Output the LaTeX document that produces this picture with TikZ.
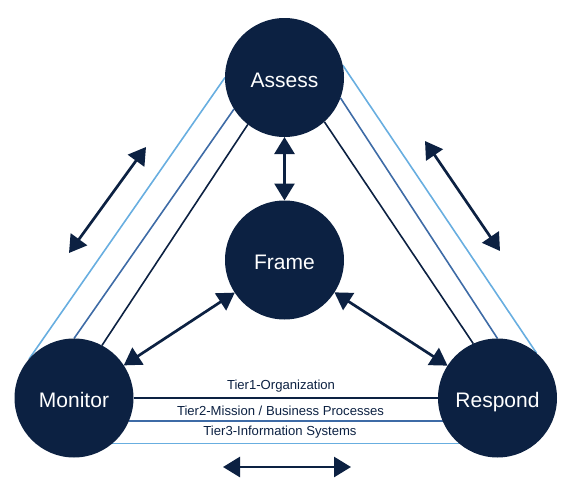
\documentclass[tikz,border=0pt]{standalone}
\usepackage{fontspec}
\setmainfont{Liberation Sans}
\usetikzlibrary{arrows.meta}
\definecolor{navy}{HTML}{0C2142}
\definecolor{midblue}{HTML}{3E6BA6}
\definecolor{lightblue}{HTML}{68AEE0}
\pgfdeclarelayer{background}
\pgfsetlayers{background,main}
\begin{document}
\begin{tikzpicture}[x=1pt,y=-1pt,
  phase/.style={circle, fill=navy, minimum size=119pt, inner sep=0pt, outer sep=0pt,
    text=white, font=\fontsize{21}{24}\selectfont, text height=19pt, text depth=0pt},
  darkline/.style={draw=navy, line width=1.6pt},
  midline/.style={draw=midblue, line width=1.6pt},
  lightline/.style={draw=lightblue, line width=1.6pt},
  dblarrow/.style={draw=navy, line width=2.7pt,
    {Triangle[length=17pt,width=20pt]}-{Triangle[length=17pt,width=20pt]}},
  tierlabel/.style={text=navy, font=\fontsize{13.1}{15}\selectfont, inner sep=0pt}
]
\useasboundingbox (0,0) rectangle (571,490);

\node[phase] (Assess)  at (284.5,77.5) {Assess};
\node[phase] (Frame)   at (284.5,260)  {Frame};
\node[phase] (Monitor) at (74,398)     {Monitor};
\node[phase] (Respond) at (497.5,398)  {Respond};

\begin{pgfonlayer}{background}
  % left side
  \draw[lightline] (Assess.180.5) -- (Monitor.139.1);
  \draw[midline]   (Assess.212.3) -- (Monitor.90);
  \draw[darkline]  (Assess.232.9) -- (Monitor.62.2);
  % right side
  \draw[lightline] (Assess.12.1)  -- (Respond.49.6);
  \draw[midline]   (Assess.-20.3) -- (Respond.90.5);
  \draw[darkline]  (Assess.-48.9) -- (Respond.114.9);
  % bottom
  \draw[darkline]  (Monitor) -- (Respond);
  \draw[midline]   (Monitor.-23.8) -- (Respond.203.8);
  \draw[lightline] (Monitor.-50.7) -- (Respond.230.7);
\end{pgfonlayer}

\node[tierlabel] (t1) at (281,385.7) {Tier1-Organization};
\node[tierlabel] (t2) at (280.5,410.7) {Tier2-Mission / Business Processes};
\node[tierlabel] (t3) at (280,432.3) {Tier3-Information Systems};

\draw[dblarrow] (Assess) -- (Frame);
\draw[dblarrow] (Frame) -- (Monitor);
\draw[dblarrow] (Frame) -- (Respond);

\coordinate (L1) at (146,147);
\coordinate (L2) at (69,253);
\coordinate (R1) at (425,141);
\coordinate (R2) at (500,251);
\coordinate (B1) at (223,467);
\coordinate (B2) at (351,467);
\draw[dblarrow] (L1) -- (L2);
\draw[dblarrow] (R1) -- (R2);
\draw[dblarrow] (B1) -- (B2);
\end{tikzpicture}
\end{document}
